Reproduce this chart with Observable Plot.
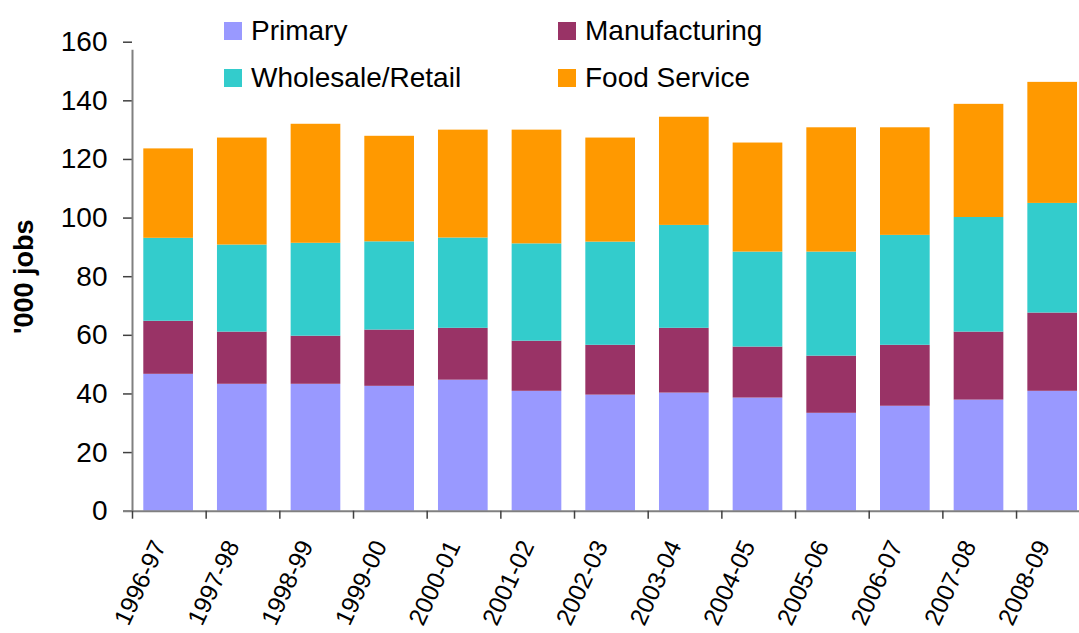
<!DOCTYPE html>
<html>
<head>
<meta charset="utf-8">
<script src="https://cdn.jsdelivr.net/npm/d3@7"></script>
<script src="https://cdn.jsdelivr.net/npm/@observablehq/plot@0.6"></script>
<style>
  html, body { margin: 0; padding: 0; background: #fff; overflow: hidden; }
  #wrap { position: relative; width: 1079px; height: 633px; font-family: "Liberation Sans", Arial, sans-serif; }
  #chart { position: absolute; left: 0; top: 0; }
  .item { position: absolute; height: 30px; display: flex; align-items: center; font-size: 28px; color: #000; white-space: nowrap; }
  .sw { width: 18px; height: 18px; margin-right: 9px; flex: none; }
</style>
</head>
<body>
<div id="wrap">
  <div id="chart"></div>
  <div id="legend"></div>
</div>
<script>
// ---- data ----
const years = ["1996-97","1997-98","1998-99","1999-00","2000-01","2001-02","2002-03","2003-04","2004-05","2005-06","2006-07","2007-08","2008-09"];
const seriesNames = ["Primary", "Manufacturing", "Wholesale/Retail", "Food Service"];
const primary       = [46.7, 43.3, 43.3, 42.6, 44.7, 40.9, 39.6, 40.3, 38.6, 33.4, 35.8, 37.9, 40.9];
const manufacturing = [18.1, 17.8, 16.4, 19.2, 17.7, 17.1, 17.0, 22.1, 17.4, 19.5, 20.8, 23.2, 26.7];
const wholesale     = [28.3, 29.7, 31.7, 30.1, 30.8, 33.2, 35.2, 35.1, 32.4, 35.5, 37.5, 39.1, 37.4];
const foodService   = [30.5, 36.5, 40.6, 36.0, 36.8, 38.8, 35.5, 36.9, 37.2, 42.4, 36.7, 38.6, 41.3];
const yTicks = [0, 20, 40, 60, 80, 100, 120, 140, 160];
const yTitle = "'000 jobs";
const colors = ["#9999FF", "#993366", "#33CCCC", "#FF9900"];

// ---- layout ----
const W = 1079, H = 633;
const mLeft = 132, mTop = 41.7, mBottom = 122.3;
const step = 73.67;
const xEnd = mLeft + step * years.length;
const axisGray = "#808080", tickDark = "#404040";
const fontStack = "'Liberation Sans', Arial, sans-serif";

const seriesValues = [primary, manufacturing, wholesale, foodService];
const rows = [];
seriesNames.forEach((s, si) => {
  years.forEach((y, i) => rows.push({year: y, series: s, value: seriesValues[si][i]}));
});

const chart = Plot.plot({
  width: W,
  height: H,
  marginLeft: mLeft,
  marginTop: mTop,
  marginBottom: mBottom,
  marginRight: 0,
  style: {fontFamily: fontStack, fontSize: "28px", color: "#000", background: "#fff"},
  x: {domain: years, range: [mLeft, xEnd], padding: 0, round: false, label: null},
  y: {domain: [0, 160], label: null},
  color: {domain: seriesNames, range: colors},
  marks: [
    Plot.barY(rows, {x: "year", y: "value", fill: "series", insetLeft: 11.3, insetRight: 12.7}),
    // y axis
    Plot.axisY({ticks: yTicks, tickSize: 9, tickPadding: 16, fontSize: 28, stroke: tickDark, strokeWidth: 1.5, fill: "#000", label: null}),
    Plot.ruleX([years[0]], {dx: -step / 2, y1: 0, y2: 160, stroke: axisGray, strokeWidth: 2, insetBottom: -8}),
    // x axis line
    Plot.ruleY([0], {stroke: axisGray, strokeWidth: 2, insetLeft: -9}),
    // x tick marks at category boundaries
    Plot.axisX({tickSize: 8, text: null, dx: -step / 2, stroke: tickDark, strokeWidth: 1.5, label: null}),
    // x labels
    Plot.axisX({tickSize: 0, tickPadding: 31, tickRotate: -65, textAnchor: "end", lineAnchor: "middle", dx: -10, fontSize: 24.5, fill: "#000", label: null}),
    // y title
    Plot.text([yTitle], {frameAnchor: "left", dx: -108, rotate: -90, fontWeight: "bold", fontSize: 27, fill: "#000", textAnchor: "middle", lineAnchor: "middle"})
  ]
});
document.getElementById("chart").appendChild(chart);

// ---- legend (overlaid, two columns) ----
const legendPos = [[224, 30.5], [558, 30.5], [224, 78], [558, 78]];
const legend = document.getElementById("legend");
seriesNames.forEach((s, i) => {
  const d = document.createElement("div");
  d.className = "item";
  d.style.left = legendPos[i][0] + "px";
  d.style.top = (legendPos[i][1] - 15) + "px";
  d.innerHTML = `<span class="sw" style="background:${colors[i]}"></span><span>${s}</span>`;
  legend.appendChild(d);
});
</script>
</body>
</html>
